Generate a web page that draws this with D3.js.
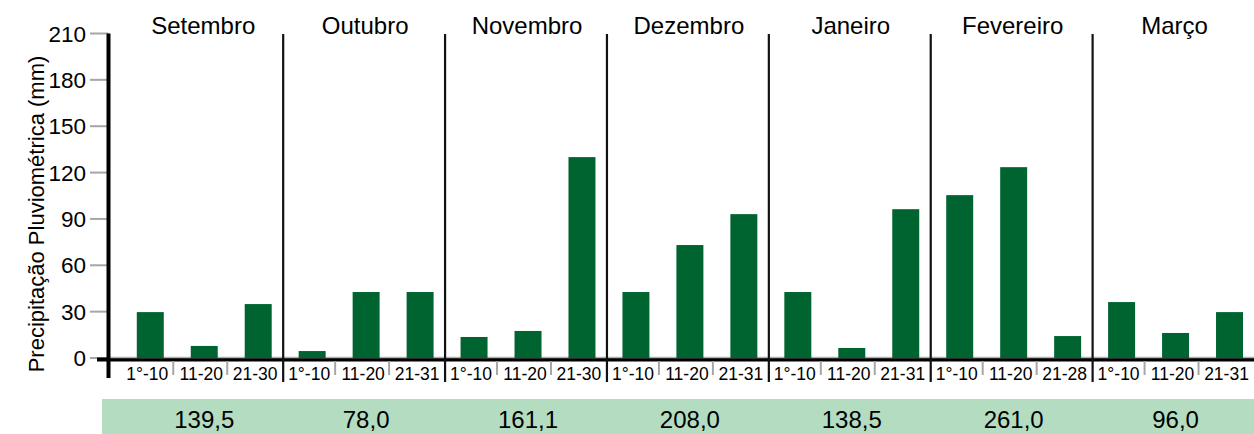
<!DOCTYPE html>
<html>
<head>
<meta charset="utf-8">
<script src="https://cdn.jsdelivr.net/npm/d3@7/dist/d3.min.js"></script>
<style>
  html, body { margin: 0; padding: 0; background: #fff; }
  svg { display: block; font-family: "Liberation Sans", Arial, sans-serif; }
</style>
</head>
<body>
<svg id="chart" width="1254" height="434"></svg>
<script>
const months = ["Setembro", "Outubro", "Novembro", "Dezembro", "Janeiro", "Fevereiro", "Março"];
const periodLabels = [
  ["1°-10", "11-20", "21-30"],
  ["1°-10", "11-20", "21-31"],
  ["1°-10", "11-20", "21-30"],
  ["1°-10", "11-20", "21-31"],
  ["1°-10", "11-20", "21-31"],
  ["1°-10", "11-20", "21-28"],
  ["1°-10", "11-20", "21-31"]
];
const rainfall = [
  [29.7, 7.8, 34.9],
  [4.5, 42.7, 42.7],
  [13.6, 17.5, 130.0],
  [42.7, 73.1, 93.1],
  [42.7, 6.5, 96.3],
  [105.4, 123.5, 14.2],
  [36.2, 16.2, 29.7]
];
const monthTotals = [139.5, 78.0, 161.1, 208.0, 138.5, 261.0, 96.0];
const yTicks = [0, 30, 60, 90, 120, 150, 180, 210];
const yTitle = "Precipitação Pluviométrica (mm)";

// flatten
const data = [];
months.forEach((m, mi) => {
  periodLabels[mi].forEach((p, pi) => {
    data.push({ key: mi + "-" + pi, month: m, mi, pi, label: p, value: rainfall[mi][pi] });
  });
});

const svg = d3.select("#chart");
const W = 1254, H = 434;
const axisX = 108.5;
const zeroY = 358;

const x = d3.scaleBand()
  .domain(data.map(d => d.key))
  .range([123.3, 1256.5])
  .paddingInner(0.5)
  .paddingOuter(0.25);

const y = d3.scaleLinear().domain([0, 210]).range([zeroY, 33.5]);

const step = x.step(), bw = x.bandwidth();
const center = k => x(k) + bw / 2;
const boundaryAfter = k => x(k) + bw + (step - bw) / 2;

// totals band
svg.append("rect")
  .attr("x", 102).attr("y", 399)
  .attr("width", W - 102).attr("height", H - 399)
  .attr("fill", "#b3dcc1");

// y ticks (gray)
svg.append("g").selectAll("line").data(yTicks).join("line")
  .attr("x1", 90).attr("x2", axisX)
  .attr("y1", d => y(d)).attr("y2", d => y(d))
  .attr("stroke", "#a6a6a6").attr("stroke-width", 2);

svg.append("g").selectAll("text").data(yTicks).join("text")
  .attr("x", 86).attr("y", d => y(d) + 8)
  .attr("text-anchor", "end")
  .attr("font-size", 22.5).attr("fill", "#000")
  .text(d => d);

// y title
svg.append("text")
  .attr("transform", "translate(44,214) rotate(-90)")
  .attr("text-anchor", "middle")
  .attr("font-size", 22).attr("fill", "#000")
  .text(yTitle);

// zero line: black thick + gray thin on top
svg.append("line")
  .attr("x1", 97).attr("x2", W)
  .attr("y1", zeroY + 1.5).attr("y2", zeroY + 1.5)
  .attr("stroke", "#000").attr("stroke-width", 4);
svg.append("line")
  .attr("x1", axisX).attr("x2", W)
  .attr("y1", zeroY - 0.5).attr("y2", zeroY - 0.5)
  .attr("stroke", "#b0b0b0").attr("stroke-width", 1.5);

// y axis line
svg.append("line")
  .attr("x1", axisX).attr("x2", axisX)
  .attr("y1", 33.5).attr("y2", 378)
  .attr("stroke", "#000").attr("stroke-width", 4);

// month separators
const monthEnds = data.filter(d => d.pi === periodLabels[d.mi].length - 1 && d.mi < months.length - 1);
svg.append("g").selectAll("line").data(monthEnds).join("line")
  .attr("x1", d => boundaryAfter(d.key) - 2).attr("x2", d => boundaryAfter(d.key) - 2)
  .attr("y1", 34).attr("y2", 382)
  .attr("stroke", "#111").attr("stroke-width", 2.2);

// sub-period separators (gray)
const subEnds = data.filter(d => d.pi < periodLabels[d.mi].length - 1);
svg.append("g").selectAll("line").data(subEnds).join("line")
  .attr("x1", d => boundaryAfter(d.key) - 4).attr("x2", d => boundaryAfter(d.key) - 4)
  .attr("y1", 361).attr("y2", 375)
  .attr("stroke", "#a6a6a6").attr("stroke-width", 2);

// bars
svg.append("g").selectAll("rect").data(data).join("rect")
  .attr("x", d => x(d.key))
  .attr("width", bw)
  .attr("y", d => y(d.value))
  .attr("height", d => y(0) - y(d.value))
  .attr("fill", "#006430");

// period labels
svg.append("g").selectAll("text").data(data).join("text")
  .attr("x", d => center(d.key) - 3)
  .attr("y", 380)
  .attr("text-anchor", "middle")
  .attr("font-size", 17.5).attr("fill", "#000")
  .text(d => d.label);

// month labels and totals
const mids = data.filter(d => d.pi === 1);
svg.append("g").selectAll("text").data(mids).join("text")
  .attr("x", d => center(d.key) - 1)
  .attr("y", 34)
  .attr("text-anchor", "middle")
  .attr("font-size", 24).attr("fill", "#000")
  .text(d => d.month);

const fmt = v => v.toFixed(1).replace(".", ",");
svg.append("g").selectAll("text").data(mids).join("text")
  .attr("x", d => center(d.key))
  .attr("y", 428)
  .attr("text-anchor", "middle")
  .attr("font-size", 24).attr("fill", "#000")
  .text(d => fmt(monthTotals[d.mi]));
</script>
</body>
</html>
